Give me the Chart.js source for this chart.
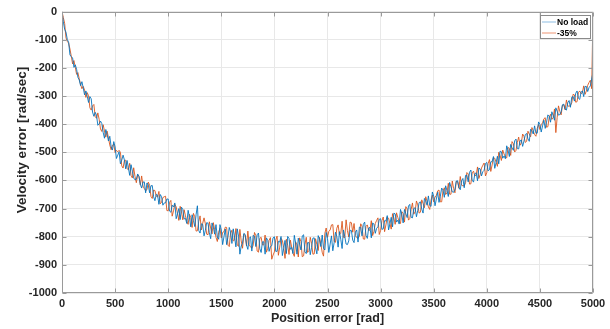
<!DOCTYPE html>
<html><head><meta charset="utf-8">
<script src="https://cdn.jsdelivr.net/npm/chart.js@4.4.0/dist/chart.umd.min.js"></script>
<style>html,body{margin:0;padding:0;background:#fff;}canvas{display:block;}</style>
</head><body>
<canvas id="c" width="610" height="329"></canvas>
<script>
const positions = [
0,25,50,75,100,125,150,175,200,225,
250,275,300,325,350,375,400,425,450,475,
500,525,550,575,600,625,650,675,700,725,
750,775,800,825,850,875,900,925,950,975,
1000,1025,1050,1075,1100,1125,1150,1175,1200,1225,
1250,1275,1300,1325,1350,1375,1400,1425,1450,1475,
1500,1525,1550,1575,1600,1625,1650,1675,1700,1725,
1750,1775,1800,1825,1850,1875,1900,1925,1950,1975,
2000,2025,2050,2075,2100,2125,2150,2175,2200,2225,
2250,2275,2300,2325,2350,2375,2400,2425,2450,2475,
2500,2525,2550,2575,2600,2625,2650,2675,2700,2725,
2750,2775,2800,2825,2850,2875,2900,2925,2950,2975,
3000,3025,3050,3075,3100,3125,3150,3175,3200,3225,
3250,3275,3300,3325,3350,3375,3400,3425,3450,3475,
3500,3525,3550,3575,3600,3625,3650,3675,3700,3725,
3750,3775,3800,3825,3850,3875,3900,3925,3950,3975,
4000,4025,4050,4075,4100,4125,4150,4175,4200,4225,
4250,4275,4300,4325,4350,4375,4400,4425,4450,4475,
4500,4525,4550,4575,4600,4625,4650,4675,4700,4725,
4750,4775,4800,4825,4850,4875,4900,4925,4950,4975,
5000];
const noLoad = [
0,-63,-99,-154,-165,-189,-234,-263,-271,-282,
-323,-310,-372,-368,-399,-398,-450,-436,-443,-492,
-481,-510,-541,-510,-559,-555,-544,-591,-596,-585,
-627,-605,-609,-644,-618,-672,-652,-650,-688,-680,
-666,-713,-694,-736,-700,-695,-737,-753,-731,-722,
-764,-690,-787,-756,-777,-752,-807,-766,-757,-809,
-776,-800,-828,-767,-824,-801,-772,-862,-823,-792,
-845,-800,-795,-835,-787,-856,-818,-804,-852,-832,
-800,-852,-819,-867,-813,-799,-845,-860,-823,-805,
-847,-793,-860,-821,-838,-804,-861,-810,-794,-847,
-806,-826,-850,-784,-837,-809,-776,-826,-815,-778,
-821,-776,-766,-797,-748,-806,-767,-751,-788,-765,
-736,-772,-744,-776,-731,-716,-748,-755,-722,-703,
-732,-685,-733,-697,-706,-676,-716,-672,-655,-692,
-656,-666,-678,-627,-660,-636,-607,-641,-631,-601,
-633,-593,-582,-605,-563,-606,-573,-556,-584,-564,
-536,-562,-533,-557,-514,-496,-521,-523,-492,-472,
-493,-453,-488,-456,-460,-433,-461,-423,-406,-432,
-401,-406,-415,-367,-393,-370,-342,-368,-356,-329,
-350,-316,-304,-318,-282,-312,-282,-266,-284,-264,
-215];
const load35 = [
0,-42,-106,-133,-186,-198,-217,-259,-266,-305,
-299,-350,-330,-379,-383,-426,-424,-425,-474,-475,
-501,-498,-500,-556,-528,-562,-582,-555,-608,-587,
-584,-629,-633,-617,-664,-636,-659,-683,-661,-656,
-708,-671,-708,-694,-742,-712,-704,-745,-720,-767,
-729,-779,-726,-752,-754,-793,-769,-750,-802,-784,
-804,-782,-767,-835,-777,-812,-830,-774,-841,-796,
-780,-836,-831,-796,-855,-802,-829,-855,-813,-880,
-854,-798,-837,-813,-877,-830,-812,-859,-818,-872,
-817,-868,-802,-849,-823,-861,-828,-802,-855,-788,
-802,-776,-757,-820,-758,-788,-802,-740,-801,-750,
-753,-803,-798,-762,-809,-758,-776,-796,-753,-733,
-778,-730,-758,-734,-773,-733,-715,-747,-711,-748,
-701,-735,-680,-711,-687,-713,-682,-658,-694,-669,
-676,-653,-634,-676,-626,-644,-649,-602,-644,-604,
-586,-619,-608,-577,-612,-567,-581,-593,-556,-538,
-572,-526,-545,-521,-550,-511,-492,-516,-483,-511,
-469,-493,-446,-467,-444,-461,-435,-412,-437,-415,
-419,-395,-377,-409,-365,-376,-430,-335,-367,-331,
-314,-336,-324,-296,-320,-282,-288,-294,-262,-244,
-5];
const positionsMid = [
12.5,37.5,62.5,87.5,112.5,137.5,162.5,187.5,212.5,237.5,
262.5,287.5,312.5,337.5,362.5,387.5,412.5,437.5,462.5,487.5,
512.5,537.5,562.5,587.5,612.5,637.5,662.5,687.5,712.5,737.5,
762.5,787.5,812.5,837.5,862.5,887.5,912.5,937.5,962.5,987.5,
1012.5,1037.5,1062.5,1087.5,1112.5,1137.5,1162.5,1187.5,1212.5,1237.5,
1262.5,1287.5,1312.5,1337.5,1362.5,1387.5,1412.5,1437.5,1462.5,1487.5,
1512.5,1537.5,1562.5,1587.5,1612.5,1637.5,1662.5,1687.5,1712.5,1737.5,
1762.5,1787.5,1812.5,1837.5,1862.5,1887.5,1912.5,1937.5,1962.5,1987.5,
2012.5,2037.5,2062.5,2087.5,2112.5,2137.5,2162.5,2187.5,2212.5,2237.5,
2262.5,2287.5,2312.5,2337.5,2362.5,2387.5,2412.5,2437.5,2462.5,2487.5,
2512.5,2537.5,2562.5,2587.5,2612.5,2637.5,2662.5,2687.5,2712.5,2737.5,
2762.5,2787.5,2812.5,2837.5,2862.5,2887.5,2912.5,2937.5,2962.5,2987.5,
3012.5,3037.5,3062.5,3087.5,3112.5,3137.5,3162.5,3187.5,3212.5,3237.5,
3262.5,3287.5,3312.5,3337.5,3362.5,3387.5,3412.5,3437.5,3462.5,3487.5,
3512.5,3537.5,3562.5,3587.5,3612.5,3637.5,3662.5,3687.5,3712.5,3737.5,
3762.5,3787.5,3812.5,3837.5,3862.5,3887.5,3912.5,3937.5,3962.5,3987.5,
4012.5,4037.5,4062.5,4087.5,4112.5,4137.5,4162.5,4187.5,4212.5,4237.5,
4262.5,4287.5,4312.5,4337.5,4362.5,4387.5,4412.5,4437.5,4462.5,4487.5,
4512.5,4537.5,4562.5,4587.5,4612.5,4637.5,4662.5,4687.5,4712.5,4737.5,
4762.5,4787.5,4812.5,4837.5,4862.5,4887.5,4912.5,4937.5,4962.5,4987.5];
const noLoadMid = [
-36,-73,-109,-160,-198,-205,-243,-249,-296,-301,
-302,-357,-358,-404,-389,-429,-419,-460,-480,-462,
-522,-498,-528,-527,-529,-582,-567,-598,-577,-614,
-606,-644,-616,-619,-658,-649,-685,-658,-680,-666,
-709,-688,-680,-719,-739,-703,-735,-706,-765,-742,
-722,-778,-754,-797,-750,-786,-751,-791,-801,-757,
-828,-773,-802,-783,-772,-836,-798,-833,-788,-829,
-806,-851,-799,-793,-842,-818,-862,-813,-835,-804,
-852,-816,-799,-842,-860,-806,-838,-795,-862,-826,
-797,-854,-821,-864,-805,-840,-796,-835,-841,-785,
-856,-797,-821,-798,-782,-842,-799,-828,-777,-812,
-784,-819,-767,-756,-795,-769,-804,-755,-770,-738,
-774,-743,-725,-755,-765,-719,-741,-703,-751,-718,
-691,-731,-700,-729,-679,-702,-664,-688,-689,-641,
-690,-642,-656,-634,-619,-657,-623,-642,-602,-625,
-601,-626,-582,-571,-599,-576,-601,-559,-569,-540,
-566,-534,-515,-537,-541,-498,-513,-477,-515,-484,
-459,-487,-460,-479,-437,-452,-418,-435,-432,-392,
-428,-386,-393,-373,-356,-386,-354,-366,-331,-347,
-324,-340,-302,-290,-308,-286,-302,-266,-270,-240];
const load35Mid = [
-21,-93,-112,-159,-174,-223,-239,-274,-279,-288,
-342,-335,-373,-360,-417,-402,-446,-449,-491,-471,
-493,-493,-548,-529,-558,-539,-591,-586,-580,-616,
-620,-636,-606,-657,-634,-656,-639,-678,-658,-707,
-678,-727,-685,-717,-692,-740,-726,-756,-732,-717,
-780,-746,-776,-733,-791,-747,-790,-775,-817,-770,
-785,-766,-830,-787,-815,-771,-834,-815,-791,-833,
-828,-841,-785,-851,-806,-829,-794,-841,-803,-865,
-812,-866,-806,-838,-809,-863,-837,-870,-829,-804,
-871,-828,-856,-802,-862,-807,-849,-827,-869,-769,
-781,-758,-817,-770,-793,-745,-803,-778,-748,-784,
-796,-806,-754,-808,-763,-778,-743,-781,-742,-792,
-743,-782,-730,-753,-718,-756,-732,-753,-718,-693,
-741,-703,-720,-673,-716,-669,-697,-674,-703,-652,
-659,-637,-676,-637,-650,-610,-649,-629,-604,-628,
-617,-619,-572,-613,-573,-584,-552,-579,-546,-584,
-540,-568,-520,-535,-500,-529,-506,-520,-486,-462,
-499,-465,-475,-435,-465,-425,-445,-424,-443,-401,
-402,-381,-411,-375,-383,-346,-376,-355,-333,-349,
-336,-334,-294,-322,-288,-292,-264,-282,-252,-274];
const xTicks = [0,500,1000,1500,2000,2500,3000,3500,4000,4500,5000];
const yTicks = [-1000,-900,-800,-700,-600,-500,-400,-300,-200,-100,0];
const seriesLabels = ['No load','-35%'];
const xTitle = 'Position error [rad]';
const yTitle = 'Velocity error [rad/sec]';

const FONT = "'Liberation Sans', Arial, Helvetica, sans-serif";
const TXT = '#262626';
const BLUE = 'rgba(0,114,189,0.88)';
const ORANGE = 'rgba(217,83,25,0.88)';
const LEG_COLORS = ['#b3d3ec', '#f3b9a2'];

function pts(vals, mids){
  const out = [];
  positions.forEach((x,i)=>{
    out.push({x:x, y:vals[i]});
    if (i < positionsMid.length) out.push({x:positionsMid[i], y:mids[i]});
  });
  return out;
}

const framePlugin = {
  id:'frame',
  afterDraw(chart){
    const ctx = chart.ctx, a = chart.chartArea;
    const xs = chart.scales.x, ys = chart.scales.y;
    ctx.save();
    ctx.strokeStyle = '#9a9a9a';
    ctx.lineWidth = 1;
    const L = Math.round(a.left)+0.5, R = Math.round(a.right)-0.5, T = Math.round(a.top)+0.5, B = Math.round(a.bottom)-0.5;
    ctx.beginPath();
    ctx.rect(L, T, R-L, B-T);
    ctx.stroke();
    const tl = 4;
    ctx.beginPath();
    xTicks.forEach(v=>{
      const px = Math.round(xs.getPixelForValue(v))+0.5;
      ctx.moveTo(px,B); ctx.lineTo(px,B-tl);
      ctx.moveTo(px,T); ctx.lineTo(px,T+tl);
    });
    yTicks.forEach(v=>{
      const py = Math.round(ys.getPixelForValue(v))+0.5;
      ctx.moveTo(L,py); ctx.lineTo(L+tl,py);
      ctx.moveTo(R,py); ctx.lineTo(R-tl,py);
    });
    ctx.stroke();
    ctx.fillStyle = TXT;
    ctx.font = "bold 13.5px " + FONT;
    ctx.textAlign = 'center';
    ctx.textBaseline = 'middle';
    ctx.translate(22, 140);
    ctx.rotate(-Math.PI/2);
    ctx.fillText(yTitle, 0, 0);
    ctx.restore();
    ctx.save();
    ctx.fillStyle = '#fff';
    ctx.strokeStyle = '#8a8a8a';
    ctx.lineWidth = 1;
    ctx.fillRect(540.5, 15.5, 50, 23);
    ctx.strokeRect(540.5, 15.5, 50, 23);
    const rows = [22, 33];
    ctx.font = "bold 8.5px " + FONT;
    ctx.textBaseline = 'middle';
    ctx.textAlign = 'left';
    seriesLabels.forEach((lab,i)=>{
      ctx.strokeStyle = LEG_COLORS[i];
      ctx.lineWidth = 1.5;
      ctx.beginPath();
      ctx.moveTo(542, rows[i]); ctx.lineTo(556, rows[i]);
      ctx.stroke();
      ctx.fillStyle = '#000';
      ctx.fillText(lab, 557, rows[i]+0.5);
    });
    ctx.restore();
  }
};

new Chart(document.getElementById('c'), {
  type:'line',
  data:{
    datasets:[
      {label:seriesLabels[0], data:pts(noLoad, noLoadMid), borderColor:BLUE, borderWidth:1, pointRadius:0, tension:0, fill:false},
      {label:seriesLabels[1], data:pts(load35, load35Mid), borderColor:ORANGE, borderWidth:1, pointRadius:0, tension:0, fill:false}
    ]
  },
  options:{
    responsive:false,
    animation:false,
    devicePixelRatio:1,
    layout:{padding:{top:11, right:17, left:0, bottom:0}},
    plugins:{legend:{display:false}, tooltip:{enabled:false}},
    scales:{
      x:{
        type:'linear', min:0, max:5000,
        afterBuildTicks(s){ s.ticks = xTicks.map(v=>({value:v})); },
        afterFit(s){ s.height = 36; },
        grid:{color:'#e8e8e8', drawTicks:false},
        border:{display:false},
        ticks:{color:TXT, font:{family:FONT, size:11, weight:'bold'}, padding:4, maxRotation:0, autoSkip:false, callback:(v)=>String(v)},
        title:{display:true, text:xTitle, color:TXT, font:{family:FONT, size:12.5, weight:'bold'}, padding:{top:0,bottom:3}}
      },
      y:{
        type:'linear', min:-1000, max:0,
        afterBuildTicks(s){ s.ticks = yTicks.map(v=>({value:v})); },
        afterFit(s){ s.width = 62; },
        grid:{color:'#e8e8e8', drawTicks:false},
        border:{display:false},
        ticks:{color:TXT, font:{family:FONT, size:11, weight:'bold'}, padding:5, autoSkip:false, callback:(v)=>String(v)}
      }
    }
  },
  plugins:[framePlugin]
});
</script>
</body></html>
